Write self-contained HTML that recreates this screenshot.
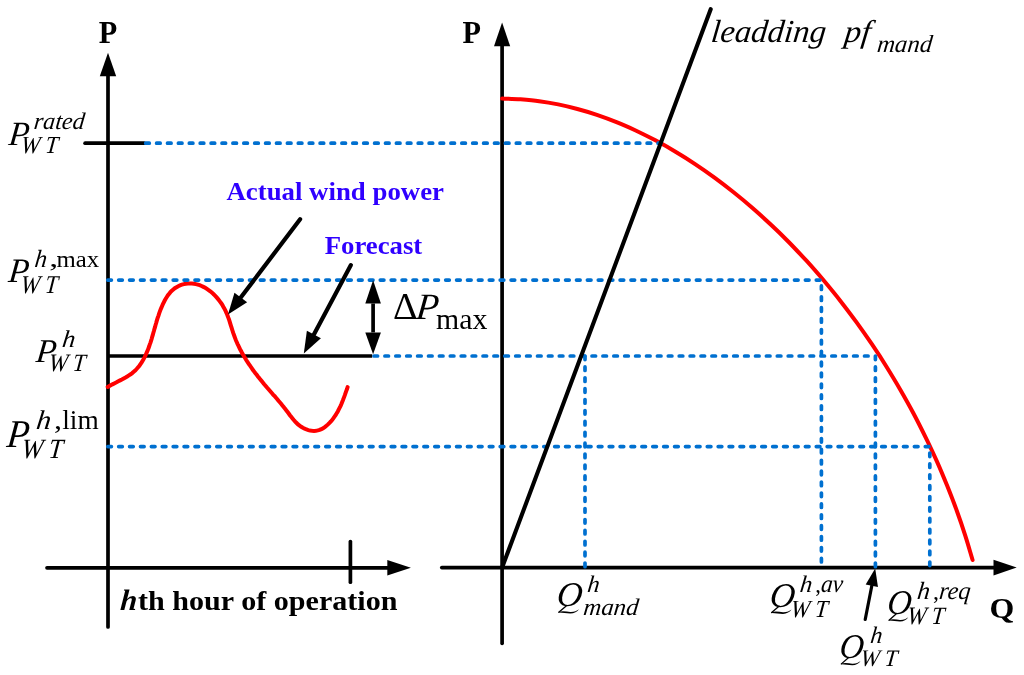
<!DOCTYPE html>
<html><head><meta charset="utf-8"><style>
html,body{margin:0;padding:0;background:#fff;}
svg{display:block;will-change:transform;}
text{font-family:"Liberation Serif",serif;}
</style></head><body>
<svg width="1024" height="675" viewBox="0 0 1024 675">
<rect width="1024" height="675" fill="#fff"/>
<line x1="108" y1="70" x2="108" y2="627" stroke="#000" stroke-width="3.7" stroke-linecap="round"/>
<polygon points="108,52.8 99.8,76.3 116.2,76.3" fill="#000"/>
<line x1="47" y1="567.8" x2="392" y2="567.8" stroke="#000" stroke-width="3.7" stroke-linecap="round"/>
<polygon points="410.9,567.8 387.3,560.0 387.3,575.5999999999999" fill="#000"/>
<line x1="350.4" y1="541.6" x2="350.4" y2="582.2" stroke="#000" stroke-width="3.7" stroke-linecap="round"/>
<line x1="85.1" y1="143.2" x2="144.2" y2="143.2" stroke="#000" stroke-width="3.7" stroke-linecap="round"/>
<line x1="108" y1="356.0" x2="372.2" y2="356.0" stroke="#000" stroke-width="3.7" stroke-linecap="butt"/>
<line x1="502.1" y1="40" x2="502.1" y2="643.3" stroke="#000" stroke-width="3.7" stroke-linecap="round"/>
<polygon points="502.1,22.6 494.0,46.3 510.20000000000005,46.3" fill="#000"/>
<line x1="441.8" y1="567.6" x2="996" y2="567.6" stroke="#000" stroke-width="3.7" stroke-linecap="round"/>
<polygon points="1016.7,567.6 993.5,559.7 993.5,575.5" fill="#000"/>
<path d="M107.7,387.0 L109.4,386.0 L111.1,385.0 L112.9,384.1 L114.7,383.2 L116.5,382.3 L118.3,381.3 L120.1,380.4 L121.9,379.5 L123.7,378.5 L125.5,377.5 L127.2,376.5 L128.9,375.4 L130.6,374.3 L132.2,373.1 L133.7,371.8 L135.2,370.5 L136.6,369.0 L137.9,367.5 L139.2,366.0 L140.3,364.3 L141.5,362.6 L142.5,360.9 L143.5,359.2 L144.5,357.4 L145.4,355.6 L146.2,353.7 L147.0,351.9 L147.8,350.1 L148.5,348.2 L149.2,346.3 L149.8,344.4 L150.5,342.6 L151.1,340.7 L151.7,338.7 L152.2,336.8 L152.8,334.9 L153.3,333.0 L153.9,331.0 L154.4,329.1 L155.0,327.2 L155.5,325.2 L156.1,323.3 L156.6,321.4 L157.2,319.4 L157.8,317.5 L158.5,315.6 L159.1,313.7 L159.8,311.7 L160.5,309.8 L161.3,307.9 L162.1,306.0 L162.9,304.2 L163.8,302.3 L164.7,300.5 L165.7,298.7 L166.8,297.0 L167.9,295.3 L169.2,293.7 L170.4,292.2 L171.8,290.8 L173.3,289.5 L174.8,288.2 L176.5,287.2 L178.2,286.2 L180.0,285.4 L181.9,284.7 L183.9,284.1 L185.9,283.7 L187.9,283.5 L189.9,283.4 L191.9,283.5 L193.9,283.7 L195.9,284.1 L197.8,284.6 L199.7,285.2 L201.6,286.0 L203.4,286.9 L205.2,287.8 L206.9,288.9 L208.6,290.1 L210.3,291.3 L211.8,292.6 L213.4,294.0 L214.8,295.4 L216.2,296.9 L217.5,298.4 L218.8,300.0 L220.0,301.6 L221.2,303.2 L222.3,304.9 L223.3,306.7 L224.3,308.4 L225.2,310.2 L226.1,312.1 L226.9,313.9 L227.6,315.8 L228.3,317.6 L229.0,319.5 L229.6,321.4 L230.2,323.4 L230.8,325.3 L231.4,327.2 L232.0,329.1 L232.6,331.0 L233.2,332.9 L233.9,334.8 L234.6,336.7 L235.3,338.6 L236.0,340.5 L236.8,342.3 L237.6,344.1 L238.5,345.9 L239.3,347.7 L240.2,349.5 L241.2,351.3 L242.1,353.1 L243.1,354.8 L244.1,356.5 L245.2,358.3 L246.2,360.0 L247.3,361.7 L248.4,363.3 L249.6,365.0 L250.7,366.7 L251.9,368.3 L253.0,370.0 L254.2,371.6 L255.4,373.2 L256.7,374.8 L257.9,376.4 L259.2,378.0 L260.4,379.6 L261.7,381.1 L263.0,382.7 L264.2,384.2 L265.5,385.7 L266.8,387.3 L268.1,388.8 L269.4,390.3 L270.7,391.8 L272.0,393.3 L273.3,394.8 L274.7,396.2 L276.0,397.7 L277.3,399.2 L278.5,400.8 L279.8,402.3 L281.1,403.8 L282.4,405.4 L283.7,407.0 L284.9,408.6 L286.2,410.2 L287.4,411.8 L288.7,413.5 L289.9,415.2 L291.2,416.8 L292.5,418.4 L293.8,420.0 L295.2,421.6 L296.6,423.0 L298.0,424.4 L299.6,425.6 L301.2,426.8 L302.9,427.8 L304.7,428.7 L306.5,429.5 L308.3,430.1 L310.2,430.5 L312.1,430.8 L314.0,430.9 L315.9,430.8 L317.8,430.4 L319.6,429.9 L321.4,429.1 L323.1,428.2 L324.8,427.1 L326.4,425.8 L328.0,424.4 L329.5,422.9 L330.9,421.4 L332.3,419.7 L333.5,418.1 L334.7,416.4 L335.9,414.7 L336.9,412.9 L337.9,411.2 L338.8,409.4 L339.7,407.6 L340.6,405.8 L341.4,404.0 L342.1,402.2 L342.9,400.3 L343.6,398.4 L344.3,396.6 L345.0,394.7 L345.6,392.8 L346.3,390.9 L347.0,389.0 L347.6,387.1" fill="none" stroke="#FF0000" stroke-width="4.0" stroke-linecap="round"/>
<path d="M502.1,98.6 C505.2,98.7 514.3,98.9 520.5,99.3 C526.7,99.8 532.9,100.3 539.2,101.2 C545.4,102.0 551.8,103.1 558.2,104.4 C564.5,105.7 571.0,107.2 577.4,109.0 C583.9,110.7 590.4,112.7 596.9,114.9 C603.4,117.1 609.9,119.5 616.5,122.2 C623.0,124.8 629.6,127.7 636.2,130.7 C642.7,133.8 649.3,137.1 655.9,140.6 C662.4,144.1 669.0,147.8 675.5,151.7 C682.1,155.6 688.6,159.7 695.1,164.1 C701.6,168.4 708.0,172.9 714.5,177.6 C720.9,182.3 727.3,187.2 733.6,192.2 C740.0,197.3 746.3,202.5 752.5,208.0 C758.7,213.4 764.9,219.0 771.0,224.8 C777.2,230.5 783.2,236.4 789.2,242.5 C795.1,248.6 801.0,254.9 806.9,261.2 C812.7,267.6 818.4,274.2 824.0,280.8 C829.6,287.5 835.2,294.3 840.6,301.2 C846.0,308.2 851.4,315.2 856.6,322.4 C861.8,329.6 866.9,336.9 871.9,344.2 C876.9,351.6 881.8,359.1 886.5,366.7 C891.2,374.3 895.9,382.0 900.3,389.7 C904.8,397.5 909.2,405.3 913.4,413.2 C917.6,421.1 921.6,429.1 925.5,437.1 C929.5,445.1 933.2,453.2 936.9,461.3 C940.5,469.4 943.9,477.6 947.2,485.8 C950.5,494.0 953.7,502.2 956.7,510.5 C959.7,518.7 962.5,526.9 965.1,535.2 C967.8,543.5 971.3,555.9 972.6,560.0" fill="none" stroke="#FF0000" stroke-width="4.0" stroke-linecap="round"/>
<path d="M145.7,143.2 H660.7" fill="none" stroke="#0070D0" stroke-width="3.7" stroke-linecap="round" stroke-linejoin="round" stroke-dasharray="3.6 7.3"/>
<path d="M107.8,280.1 H821.4 V567.6" fill="none" stroke="#0070D0" stroke-width="3.7" stroke-linecap="round" stroke-linejoin="round" stroke-dasharray="3.6 7.3"/>
<path d="M374.0,356.0 H875.4 V567.6" fill="none" stroke="#0070D0" stroke-width="3.7" stroke-linecap="round" stroke-linejoin="round" stroke-dasharray="3.6 7.3"/>
<path d="M107.8,446.6 H929.8 V567.6" fill="none" stroke="#0070D0" stroke-width="3.7" stroke-linecap="round" stroke-linejoin="round" stroke-dasharray="3.6 7.3"/>
<path d="M585.0,356.0 V567.6" fill="none" stroke="#0070D0" stroke-width="3.7" stroke-linecap="round" stroke-linejoin="round" stroke-dasharray="3.6 7.3"/>
<line x1="502.5" y1="566.5" x2="710.7" y2="9.2" stroke="#000" stroke-width="4.1" stroke-linecap="round"/>
<line x1="300.1" y1="219.2" x2="239.59190068471437" y2="299.09418938717323" stroke="#000" stroke-width="4.2" stroke-linecap="round"/>
<polygon points="228,314.4 234.46,292.7 247.14,302.3" fill="#000"/>
<line x1="350.9" y1="265.1" x2="312.96939668822006" y2="336.29034676775683" stroke="#000" stroke-width="4.2" stroke-linecap="round"/>
<polygon points="303.8,353.5 306.89,330.79 320.93,338.26" fill="#000"/>
<line x1="865.2" y1="619.5" x2="872.2175758588244" y2="583.7103631199959" stroke="#000" stroke-width="3.2" stroke-linecap="round"/>
<polygon points="875.2,568.5 877.97,586.88 865.7,584.47" fill="#000"/>
<line x1="373.1" y1="303.5" x2="373.1" y2="332.4" stroke="#000" stroke-width="3.7" stroke-linecap="butt"/>
<polygon points="373.1,280.2 365.3,303.5 380.90000000000003,303.5" fill="#000"/>
<polygon points="373.1,354.3 365.3,332.4 380.90000000000003,332.4" fill="#000"/>
<text transform="translate(98.67,42.90) scale(0.9863,1)" font-size="30.69" style="font-style:normal;font-weight:bold" fill="#000">P</text>
<text transform="translate(462.57,43.30) scale(0.9765,1)" font-size="30.99" style="font-style:normal;font-weight:bold" fill="#000">P</text>
<text transform="translate(989.39,617.80) scale(1.0447,1)" font-size="30.49" style="font-style:normal;font-weight:bold" fill="#000">Q</text>
<text transform="translate(7.97,144.80) scale(0.9873,1) skewX(-6.0)" font-size="33.89" style="font-style:italic;font-weight:normal" fill="#000">P</text>
<text transform="translate(33.24,129.40) scale(1.0091,1) skewX(-6.0)" font-size="23.88" style="font-style:italic;font-weight:normal" fill="#000">rated</text>
<text transform="translate(20.31,153.30) scale(0.9485,1) skewX(-6.0)" font-size="24.58" style="font-style:italic;font-weight:normal" fill="#000">W</text>
<text transform="translate(44.66,153.30) scale(0.9289,1) skewX(-6.0)" font-size="24.58" style="font-style:italic;font-weight:normal" fill="#000">T</text>
<text transform="translate(7.67,282.40) scale(0.9741,1) skewX(-6.0)" font-size="34.35" style="font-style:italic;font-weight:normal" fill="#000">P</text>
<text transform="translate(34.03,267.40) scale(1.0035,1) skewX(-6.0)" font-size="24.75" style="font-style:italic;font-weight:normal" fill="#000">h</text>
<text transform="translate(49.15,267.40) scale(1.4400,1)" font-size="25.00" style="font-style:normal;font-weight:normal" fill="#000">,</text>
<text transform="translate(56.40,267.30) scale(1.0312,1)" font-size="24.04" style="font-style:normal;font-weight:normal" fill="#000">max</text>
<text transform="translate(20.11,292.60) scale(0.9090,1) skewX(-6.0)" font-size="25.65" style="font-style:italic;font-weight:normal" fill="#000">W</text>
<text transform="translate(44.46,292.60) scale(0.8902,1) skewX(-6.0)" font-size="25.65" style="font-style:italic;font-weight:normal" fill="#000">T</text>
<text transform="translate(35.27,361.80) scale(1.0007,1) skewX(-6.0)" font-size="33.28" style="font-style:italic;font-weight:normal" fill="#000">P</text>
<text transform="translate(61.38,346.70) scale(1.0846,1) skewX(-6.0)" font-size="24.32" style="font-style:italic;font-weight:normal" fill="#000">h</text>
<text transform="translate(48.01,370.70) scale(0.9311,1) skewX(-6.0)" font-size="25.04" style="font-style:italic;font-weight:normal" fill="#000">W</text>
<text transform="translate(72.36,370.70) scale(0.9119,1) skewX(-6.0)" font-size="25.04" style="font-style:italic;font-weight:normal" fill="#000">T</text>
<text transform="translate(6.08,446.70) scale(0.9325,1) skewX(-6.0)" font-size="39.39" style="font-style:italic;font-weight:normal" fill="#000">P</text>
<text transform="translate(35.46,429.00) scale(1.0969,1) skewX(-6.0)" font-size="27.05" style="font-style:italic;font-weight:normal" fill="#000">h</text>
<text transform="translate(54.10,429.00) scale(1.1852,1)" font-size="27.00" style="font-style:normal;font-weight:normal" fill="#000">,</text>
<text transform="translate(62.25,429.00) scale(1.0115,1)" font-size="27.05" style="font-style:normal;font-weight:normal" fill="#000">lim</text>
<text transform="translate(20.74,457.50) scale(0.9346,1) skewX(-6.0)" font-size="27.94" style="font-style:italic;font-weight:normal" fill="#000">W</text>
<text transform="translate(48.01,457.50) scale(0.9153,1) skewX(-6.0)" font-size="27.94" style="font-style:italic;font-weight:normal" fill="#000">T</text>
<text transform="translate(226.43,200.40) scale(1.1034,1)" font-size="24.32" style="font-style:normal;font-weight:bold" fill="#2F00FF">Actual wind power</text>
<text transform="translate(324.63,253.60) scale(1.0443,1)" font-size="25.65" style="font-style:normal;font-weight:bold" fill="#2F00FF">Forecast</text>
<text transform="translate(393.07,318.50) scale(1.0295,1)" font-size="36.97" style="font-style:normal;font-weight:normal" fill="#000">Δ</text>
<text transform="translate(415.18,318.50) scale(0.9902,1) skewX(-6.0)" font-size="37.25" style="font-style:italic;font-weight:normal" fill="#000">P</text>
<text transform="translate(436.00,328.90) scale(1.0084,1)" font-size="29.57" style="font-style:normal;font-weight:normal" fill="#000">max</text>
<text transform="translate(119.79,609.90) scale(1.0320,1) skewX(-4.0)" font-size="29.50" style="font-style:italic;font-weight:bold" fill="#000">h</text>
<text transform="translate(137.95,609.90) scale(1.0613,1)" font-size="28.37" style="font-style:normal;font-weight:bold" fill="#000">th hour of operation</text>
<text transform="translate(710.28,41.60) scale(1.0273,1) skewX(-6.0)" font-size="31.94" style="font-style:italic;font-weight:normal" fill="#000">leadding</text>
<text transform="translate(843.59,41.60) scale(1.0697,1) skewX(-6.0)" font-size="31.49" style="font-style:italic;font-weight:normal" fill="#000">pf</text>
<text transform="translate(876.43,51.70) scale(1.0096,1) skewX(-6.0)" font-size="24.60" style="font-style:italic;font-weight:normal" fill="#000">mand</text>
<text transform="translate(555.95,606.30) scale(1.0184,1) skewX(-6.0)" font-size="34.72" style="font-style:italic;font-weight:normal" fill="#000">O</text>
<path d="M566.19,605.96 L558.78,612.17" stroke="#000" stroke-width="1.3" stroke-linecap="round" fill="none"/>
<path d="M558.30,611.94 C562.36,610.67 566.66,611.59 570.25,611.94 C573.84,612.17 576.94,610.67 578.97,609.18 C577.42,611.48 574.07,613.61 570.25,613.61 C566.19,613.61 562.36,612.51 558.30,612.63 Z" fill="#000"/>
<text transform="translate(586.74,591.50) scale(1.0306,1) skewX(-6.0)" font-size="23.88" style="font-style:italic;font-weight:normal" fill="#000">h</text>
<text transform="translate(582.83,615.40) scale(1.0381,1) skewX(-6.0)" font-size="23.88" style="font-style:italic;font-weight:normal" fill="#000">mand</text>
<text transform="translate(768.89,606.60) scale(1.0011,1) skewX(-6.0)" font-size="34.72" style="font-style:italic;font-weight:normal" fill="#000">O</text>
<path d="M778.96,606.26 L771.67,612.47" stroke="#000" stroke-width="1.3" stroke-linecap="round" fill="none"/>
<path d="M771.20,612.24 C775.20,610.97 779.43,611.89 782.95,612.24 C786.48,612.47 789.53,610.97 791.53,609.48 C790.00,611.78 786.71,613.91 782.95,613.91 C778.96,613.91 775.20,612.81 771.20,612.93 Z" fill="#000"/>
<text transform="translate(799.13,592.00) scale(1.0398,1) skewX(-6.0)" font-size="23.88" style="font-style:italic;font-weight:normal" fill="#000">h</text>
<text transform="translate(815.35,592.00) scale(0.9444,1)" font-size="24.00" style="font-style:normal;font-weight:normal" fill="#000">,</text>
<text transform="translate(820.45,592.00) scale(0.9352,1) skewX(-6.0)" font-size="24.89" style="font-style:italic;font-weight:normal" fill="#000">av</text>
<text transform="translate(790.11,616.90) scale(0.9485,1) skewX(-6.0)" font-size="24.58" style="font-style:italic;font-weight:normal" fill="#000">W</text>
<text transform="translate(814.46,616.90) scale(0.9289,1) skewX(-6.0)" font-size="24.58" style="font-style:italic;font-weight:normal" fill="#000">T</text>
<text transform="translate(886.38,614.30) scale(0.9666,1) skewX(-6.0)" font-size="34.72" style="font-style:italic;font-weight:normal" fill="#000">O</text>
<path d="M896.09,613.96 L889.05,620.17" stroke="#000" stroke-width="1.3" stroke-linecap="round" fill="none"/>
<path d="M888.60,619.94 C892.46,618.67 896.54,619.59 899.95,619.94 C903.36,620.17 906.31,618.67 908.24,617.18 C906.76,619.48 903.58,621.61 899.95,621.61 C896.09,621.61 892.46,620.51 888.60,620.63 Z" fill="#000"/>
<text transform="translate(916.60,598.90) scale(1.0390,1) skewX(-6.0)" font-size="24.75" style="font-style:italic;font-weight:normal" fill="#000">h</text>
<text transform="translate(933.00,598.90) scale(1.0000,1)" font-size="24.00" style="font-style:normal;font-weight:normal" fill="#000">,</text>
<text transform="translate(938.42,598.90) scale(0.9792,1) skewX(-6.0)" font-size="24.89" style="font-style:italic;font-weight:normal" fill="#000">req</text>
<text transform="translate(906.61,623.90) scale(0.9311,1) skewX(-6.0)" font-size="25.04" style="font-style:italic;font-weight:normal" fill="#000">W</text>
<text transform="translate(930.96,623.90) scale(0.9119,1) skewX(-6.0)" font-size="25.04" style="font-style:italic;font-weight:normal" fill="#000">T</text>
<text transform="translate(838.68,658.00) scale(0.9666,1) skewX(-6.0)" font-size="34.72" style="font-style:italic;font-weight:normal" fill="#000">O</text>
<path d="M848.39,657.66 L841.35,663.87" stroke="#000" stroke-width="1.3" stroke-linecap="round" fill="none"/>
<path d="M840.90,663.64 C844.76,662.37 848.85,663.29 852.25,663.64 C855.65,663.87 858.61,662.37 860.54,660.88 C859.06,663.18 855.88,665.31 852.25,665.31 C848.39,665.31 844.76,664.21 840.90,664.33 Z" fill="#000"/>
<text transform="translate(869.75,642.70) scale(1.0214,1) skewX(-6.0)" font-size="23.67" style="font-style:italic;font-weight:normal" fill="#000">h</text>
<text transform="translate(859.71,666.10) scale(0.9789,1) skewX(-6.0)" font-size="23.82" style="font-style:italic;font-weight:normal" fill="#000">W</text>
<text transform="translate(884.06,666.10) scale(0.9587,1) skewX(-6.0)" font-size="23.82" style="font-style:italic;font-weight:normal" fill="#000">T</text>
</svg>
</body></html>
